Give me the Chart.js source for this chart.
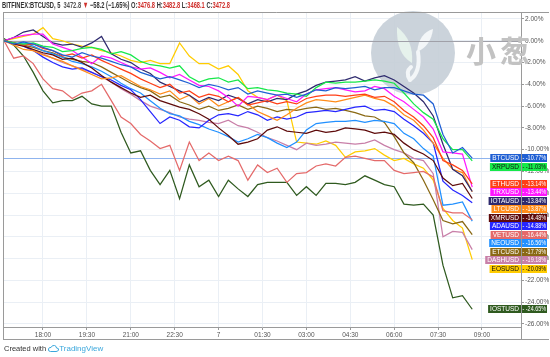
<!DOCTYPE html>
<html><head><meta charset="utf-8">
<script src="https://cdn.jsdelivr.net/npm/chart.js@4"></script>
<style>
html,body{margin:0;padding:0;background:#fff;}
#wrap{position:relative;width:550px;height:357px;overflow:hidden;}
#c{position:absolute;left:0;top:0;}
#hdr{position:absolute;left:2px;top:0px;font-family:'Liberation Sans',Arial,sans-serif;font-size:9px;font-weight:bold;line-height:11px;white-space:nowrap;transform-origin:0 0;color:#333;}
#hdr .r{color:#d0312d;}
#ftr{position:absolute;left:4px;top:344px;font-family:'Liberation Sans',Arial,sans-serif;font-size:7.5px;line-height:10px;white-space:nowrap;color:#333;}
#ftr .tv{color:#3aa7dc;font-size:8px;}
#wm{position:absolute;left:466px;top:34px;font-family:'Noto Sans CJK SC',sans-serif;font-weight:bold;font-size:30px;line-height:31px;color:#c2c2c2;letter-spacing:4px;}
</style>
</head><body>
<div id="wrap">
<canvas id="c" width="550" height="357"></canvas>
<div id="wm">小葱</div>
<div id="hdr">BITFINEX:BTCUSD, 5&nbsp; <span style="color:#555">3472.8</span> <span class="r">▼</span> −58.2 (−1.65%) O:<span class="r">3476.8</span> H:<span class="r">3482.8</span> L:<span class="r">3468.1</span> C:<span class="r">3472.8</span></div>
<div id="ftr">Created with <svg width="11" height="7" viewBox="0 0 22 14" style="vertical-align:-1px"><path d="M5 13 Q0 13 1 8 Q2 4 6 5 Q8 0 13 1 Q17 2 17 6 Q22 6 21 10 Q20 13 16 13 Z" fill="none" stroke="#3aa7dc" stroke-width="2"/></svg><span class="tv">TradingView</span></div>
</div>
<script>
// ---- data (percent change) ----
const times = ["16:40","17:00","17:20","17:40","18:00","18:20","18:40","19:00","19:20","19:40",
"20:00","20:20","20:40","21:00","21:20","21:40","22:00","22:20","22:40","23:00",
"23:20","23:40","00:00","00:20","00:40","01:00","01:20","01:40","02:00","02:20",
"02:40","03:00","03:20","03:40","04:00","04:20","04:40","05:00","05:20","05:40",
"06:00","06:20","06:40","07:00","07:20","07:40","08:00","08:20","08:40"];

const BTCUSD = [0,-0.3,-0.1,-0.3,-0.6,-0.9,-1.3,-1.5,-1.1,-1.4,-1.6,-1.9,-2.2,-2.4,-2.9,-3.2,-3.5,-3.3,-3.6,-3.9,-4.3,-4.0,-4.2,-4.5,-4.3,-4.9,-4.6,-4.8,-5.0,-4.9,-5.2,-4.9,-4.5,-4.6,-4.3,-4.4,-4.3,-4.2,-4.5,-4.3,-4.3,-4.6,-4.9,-5.0,-5.8,-8.6,-10.3,-9.8,-10.77];
const XRPUSD = [0,-0.2,-0.3,-0.2,-0.5,-0.6,-1.0,-0.9,-0.7,-0.6,-0.8,-1.2,-1.0,-1.3,-1.9,-2.2,-2.3,-2.5,-2.3,-3.3,-3.8,-3.5,-3.4,-3.8,-3.6,-4.4,-4.3,-4.5,-4.6,-4.8,-4.9,-5.1,-4.3,-3.8,-3.9,-3.8,-3.8,-3.7,-3.6,-3.7,-3.9,-4.8,-5.8,-6.6,-7.2,-9.0,-10.0,-10.0,-11.03];
const ETHUSD = [0,-0.2,-0.4,-0.3,-0.7,-0.9,-1.4,-1.2,-1.6,-1.3,-1.8,-2.2,-2.6,-3.0,-3.5,-3.9,-4.3,-4.0,-4.8,-4.6,-5.2,-4.9,-5.1,-5.6,-5.2,-5.9,-5.7,-5.5,-5.8,-5.6,-5.8,-5.3,-5.1,-5.0,-5.0,-5.1,-5.0,-4.9,-5.2,-5.1,-5.6,-6.4,-7.0,-7.8,-8.9,-11.0,-11.4,-11.9,-13.14];
const TRXUSD = [0,0.3,0.5,0.6,0.6,-0.3,-0.6,-0.9,-1.5,-2.1,-1.4,-1.6,-2.0,-2.4,-2.6,-2.5,-2.9,-3.4,-3.1,-3.6,-4.1,-4.2,-4.6,-5.2,-6.0,-5.1,-5.2,-5.4,-5.0,-5.3,-5.6,-4.9,-4.5,-4.4,-4.3,-4.5,-4.7,-4.6,-4.2,-4.4,-5.1,-5.6,-6.3,-7.0,-8.1,-10.2,-10.3,-10.4,-13.44];
const IOTAUSD = [0,0.3,0.8,1.0,0.4,-0.2,-0.4,-0.3,-0.6,-0.2,0.4,-1.2,-1.7,-2.0,-2.6,-3.0,-3.8,-4.2,-4.6,-5.0,-5.6,-5.2,-5.5,-5.0,-5.3,-5.8,-5.4,-5.6,-5.3,-5.4,-4.9,-4.6,-4.1,-3.8,-3.7,-3.6,-3.3,-3.7,-3.4,-3.2,-3.6,-4.2,-4.8,-5.6,-6.9,-9.5,-11.8,-12.4,-13.84];
const LTCUSD = [0,-0.4,-0.8,-0.9,-1.3,-1.6,-1.9,-2.3,-2.7,-3.1,-3.5,-3.4,-3.2,-3.7,-4.2,-4.5,-4.9,-4.6,-5.4,-5.0,-5.8,-5.3,-6.0,-5.6,-5.2,-5.8,-6.5,-6.9,-7.3,-6.8,-6.2,-5.7,-5.4,-5.5,-5.6,-5.4,-5.2,-5.0,-5.3,-5.5,-6.0,-6.8,-7.3,-8.2,-9.4,-10.8,-11.8,-12.1,-13.87];
const XMRUSD = [0,-0.3,-0.5,-0.8,-1.1,-1.3,-1.7,-1.6,-2.0,-2.5,-3.2,-3.8,-4.3,-4.8,-5.2,-5.0,-5.5,-5.8,-6.1,-6.3,-6.7,-7.2,-8.0,-8.7,-9.5,-9.3,-9.0,-8.2,-7.9,-8.3,-8.4,-8.5,-8.2,-8.4,-8.3,-8.0,-8.1,-8.2,-8.5,-8.4,-8.6,-9.4,-10.0,-10.4,-11.0,-12.6,-13.3,-13.1,-14.48];
const ADAUSD = [0,-0.2,-0.5,-0.9,-1.5,-2.0,-2.4,-2.6,-2.5,-2.9,-3.3,-3.6,-4.1,-4.5,-5.4,-6.5,-7.6,-7.0,-7.3,-7.9,-8.0,-7.3,-6.8,-6.7,-6.9,-6.5,-6.8,-7.3,-7.0,-7.2,-7.0,-6.6,-6.5,-6.4,-6.5,-6.3,-6.1,-6.0,-6.4,-6.3,-6.5,-7.2,-7.8,-8.5,-9.4,-12.9,-13.7,-14.2,-14.88];
const VETUSD = [0,-1.6,-1.4,-2.1,-3.5,-4.4,-4.6,-5.3,-4.8,-4.6,-4.0,-5.5,-7.0,-7.6,-8.6,-9.2,-9.9,-9.6,-11.9,-9.3,-11.0,-10.3,-11.0,-10.6,-11.0,-12.8,-11.4,-12.1,-11.7,-13.0,-12.2,-12.1,-11.5,-11.3,-11.5,-10.7,-10.6,-10.8,-11.0,-11.0,-11.9,-12.2,-12.1,-12.0,-12.5,-15.6,-15.8,-15.8,-16.44];
const NEOUSD = [0,-0.3,-0.2,-0.5,-0.9,-1.2,-1.5,-1.9,-2.1,-2.4,-2.8,-3.3,-3.9,-4.4,-4.8,-5.5,-6.2,-6.7,-6.9,-7.4,-7.7,-8.1,-8.4,-8.8,-9.3,-9.0,-8.6,-8.9,-9.4,-9.8,-9.3,-8.2,-7.6,-7.5,-7.4,-7.4,-7.3,-7.5,-7.3,-7.4,-7.6,-8.5,-9.0,-9.9,-10.6,-15.1,-15.0,-14.8,-16.56];
const ETCUSD = [0,-0.2,-0.4,-0.6,-0.9,-1.1,-1.5,-1.7,-1.9,-2.0,-2.4,-2.9,-3.4,-3.9,-4.3,-4.6,-5.2,-5.0,-5.6,-5.9,-6.3,-6.0,-6.4,-6.2,-5.9,-6.3,-6.0,-6.2,-6.5,-6.3,-6.4,-6.2,-6.1,-6.3,-6.2,-6.4,-6.6,-6.9,-7.0,-7.5,-8.8,-10.3,-11.2,-12.8,-14.6,-16.5,-16.8,-16.6,-17.79];
const DASHUSD = [0,-0.2,-0.4,-0.8,-1.2,-1.6,-2.0,-2.3,-2.6,-2.9,-3.3,-3.8,-4.4,-4.9,-5.5,-6.0,-6.3,-6.6,-7.0,-7.2,-7.3,-7.5,-7.6,-7.3,-7.8,-8.0,-8.4,-8.9,-9.2,-9.6,-10.0,-9.4,-9.6,-9.5,-9.3,-9.4,-9.5,-9.4,-9.1,-9.6,-10.0,-10.3,-10.8,-11.0,-12.2,-18.0,-17.5,-17.6,-19.18];
const EOSUSD = [0,0.2,0.4,0.6,1.2,0.2,0,-0.3,-0.5,-0.6,-0.9,-1.1,-1.4,-1.8,-2.0,-1.8,-2.1,-2.1,-0.2,-1.4,-2.1,-2.1,-2.6,-2.3,-3.1,-4.6,-5.2,-5.4,-5.0,-5.5,-9.3,-9.4,-9.5,-9.2,-9.6,-10.7,-10.2,-10.1,-9.9,-10.5,-11.0,-10.8,-11.3,-11.7,-12.8,-15.4,-16.5,-17.2,-20.09];
const IOSTUSD = [0.2,-0.4,-1.4,-2.9,-4.6,-5.7,-5.5,-5.5,-5.1,-5.8,-6.0,-6.0,-8.4,-10.3,-10.1,-11.9,-13.2,-11.9,-14.5,-11.4,-13.4,-12.8,-14.3,-12.8,-13.6,-14.3,-13.2,-13.0,-13.0,-13.0,-14.2,-13.4,-14.2,-13.1,-13.1,-13.2,-13.0,-12.4,-12.8,-13.2,-13.4,-15.0,-15.1,-15.0,-16.0,-20.6,-23.6,-23.4,-24.65];

const seriesNames = ["BTCUSD","XRPUSD","ETHUSD","TRXUSD","IOTAUSD","LTCUSD","XMRUSD","ADAUSD","VETUSD","NEOUSD","ETCUSD","DASHUSD","EOSUSD","IOSTUSD"];
const xTickTimes = ["18:00","19:30","21:00","22:30","00:00","01:30","03:00","04:30","06:00","07:30","09:00"];
const xTickLabels = ["18:00","19:30","21:00","22:30","7","01:30","03:00","04:30","06:00","07:30","09:00"];
const yTicks = [2,0,-2,-4,-6,-8,-10,-12,-14,-16,-18,-20,-22,-24,-26];

// ---- styles ----
const seriesData = {BTCUSD,XRPUSD,ETHUSD,TRXUSD,IOTAUSD,LTCUSD,XMRUSD,ADAUSD,VETUSD,NEOUSD,ETCUSD,DASHUSD,EOSUSD,IOSTUSD};
const colors = {BTCUSD:"#1f5fd3",XRPUSD:"#16e84a",ETHUSD:"#ff3f17",TRXUSD:"#ff17ff",IOTAUSD:"#2e2a6e",LTCUSD:"#ff8c1a",
  XMRUSD:"#5e0b0b",ADAUSD:"#2626ff",VETUSD:"#e46a6a",NEOUSD:"#2190ff",ETCUSD:"#8a6914",DASHUSD:"#c87fa8",EOSUSD:"#ffcc00",IOSTUSD:"#2f5a1f"};
const darkText = {XRPUSD:true,EOSUSD:true};
const FONT = "'Liberation Sans', Arial, sans-serif";

function toMin(s){const [h,m]=s.split(':').map(Number);return (h<12?h+24:h)*60+m;}

const overlay = {
  id:'overlay',
  beforeDatasetsDraw(chart){
    const {ctx, chartArea:a, scales:{y}} = chart;
    ctx.save();
    // watermark
    ctx.beginPath(); ctx.arc(413,53,42,0,Math.PI*2); ctx.fillStyle='rgba(197,206,215,0.9)'; ctx.fill();
    ctx.fillStyle='#e6f2ec';
    ctx.beginPath(); ctx.moveTo(397,27); ctx.quadraticCurveTo(396,54,412,63); ctx.quadraticCurveTo(414,40,397,27); ctx.fill();
    ctx.fillStyle='#f3f6f8';
    ctx.beginPath(); ctx.moveTo(433,29); ctx.quadraticCurveTo(419,33,417,52); ctx.quadraticCurveTo(431,46,433,29); ctx.fill();
    ctx.strokeStyle='#f3f6f8'; ctx.lineWidth=4; ctx.lineCap='round';
    ctx.beginPath(); ctx.moveTo(418,52); ctx.quadraticCurveTo(421,72,410,80); ctx.stroke();
    ctx.beginPath(); ctx.moveTo(410,80); ctx.quadraticCurveTo(405,72,411,67); ctx.stroke();
    // 0% line
    const y0 = Math.round(y.getPixelForValue(0))+0.5;
    ctx.strokeStyle='#a0a0a8'; ctx.lineWidth=1; ctx.lineCap='butt';
    ctx.beginPath(); ctx.moveTo(a.left,y0); ctx.lineTo(a.right,y0); ctx.stroke();
    // last price line
    const yb = Math.round(y.getPixelForValue(BTCUSD[BTCUSD.length-1]))+0.5;
    ctx.strokeStyle='#8fb4ee';
    ctx.beginPath(); ctx.moveTo(a.left,yb); ctx.lineTo(a.right,yb); ctx.stroke();
    ctx.restore();
  },
  afterDraw(chart){
    const {ctx, chartArea:a, scales:{y}} = chart;
    ctx.save();
    // frame
    ctx.strokeStyle='#9a9a9a'; ctx.lineWidth=1;
    ctx.beginPath();
    ctx.moveTo(a.left+0.5,a.top+0.5); ctx.lineTo(549,a.top+0.5);
    ctx.moveTo(a.left+0.5,a.top); ctx.lineTo(a.left+0.5,339.5);
    ctx.moveTo(a.left,339.5); ctx.lineTo(549,339.5);
    ctx.moveTo(a.right+0.5,a.bottom); ctx.lineTo(a.right+0.5,339.5);
    ctx.stroke();
    // value labels
    const items = seriesNames.map(n=>({n, v:seriesData[n][seriesData[n].length-1]}));
    items.sort((p,q)=>q.v-p.v);
    let prev=-1e9;
    ctx.font = '6.5px '+FONT; ctx.textBaseline='middle';
    items.forEach(it=>{
      let py = Math.max(y.getPixelForValue(it.v), prev+8.5); prev=py;
      const h=8, top=Math.round(py-h/2);
      const tw = ctx.measureText(it.n).width;
      ctx.fillStyle=colors[it.n];
      ctx.fillRect(a.right-tw-4, top, tw+4, h);
      ctx.fillRect(a.right+1, top, 547-a.right-1, h);
      ctx.fillStyle = darkText[it.n] ? '#111' : '#fff';
      ctx.textAlign='left';
      ctx.fillText(it.n, a.right-tw-2, top+h/2+0.5);
      ctx.fillText('- '+it.v.toFixed(2)+'%', a.right+1.5, top+h/2+0.5, 547-a.right-2.5);
    });
    ctx.restore();
  }
};

new Chart(document.getElementById('c'), {
  type:'line',
  data:{datasets: seriesNames.map(n=>({
    label:n,
    data: times.map((t,i)=>({x:toMin(t), y:seriesData[n][i]})),
    borderColor:colors[n], borderWidth:1.25, pointRadius:0, tension:0, fill:false
  }))},
  options:{
    responsive:false, animation:false, events:[],
    layout:{padding:{left:3, top:12, right:1, bottom:18}},
    plugins:{legend:{display:false}, tooltip:{enabled:false}},
    scales:{
      x:{type:'linear', min:998, max:2060,
        afterBuildTicks(s){ s.ticks = xTickTimes.map(t=>({value:toMin(t)})); },
        afterFit(s){ s.height = 12; },
        ticks:{callback:(v,i)=>xTickLabels[i], autoSkip:false, maxRotation:0, padding:1, color:'#555', font:{size:6.5, family:FONT}},
        grid:{color:'#eaeff5', tickLength:3, tickColor:'#999'},
        border:{color:'#9a9a9a'}
      },
      y:{position:'right', min:-26.28, max:2.64,
        afterBuildTicks(s){ s.ticks = yTicks.map(v=>({value:v})); },
        afterFit(s){ s.width = 28; },
        ticks:{callback:v=>v.toFixed(2)+'%', padding:1, color:'#555', font:{size:6.5, family:FONT}},
        grid:{color:'#eaeff5', tickLength:3, tickColor:'#999'},
        border:{color:'#9a9a9a'}
      }
    }
  },
  plugins:[overlay]
});

// fit header width
const hdr = document.getElementById('hdr');
const w = hdr.getBoundingClientRect().width;
hdr.style.transform = 'scaleX(' + (228/w) + ')';
</script>
</body></html>
